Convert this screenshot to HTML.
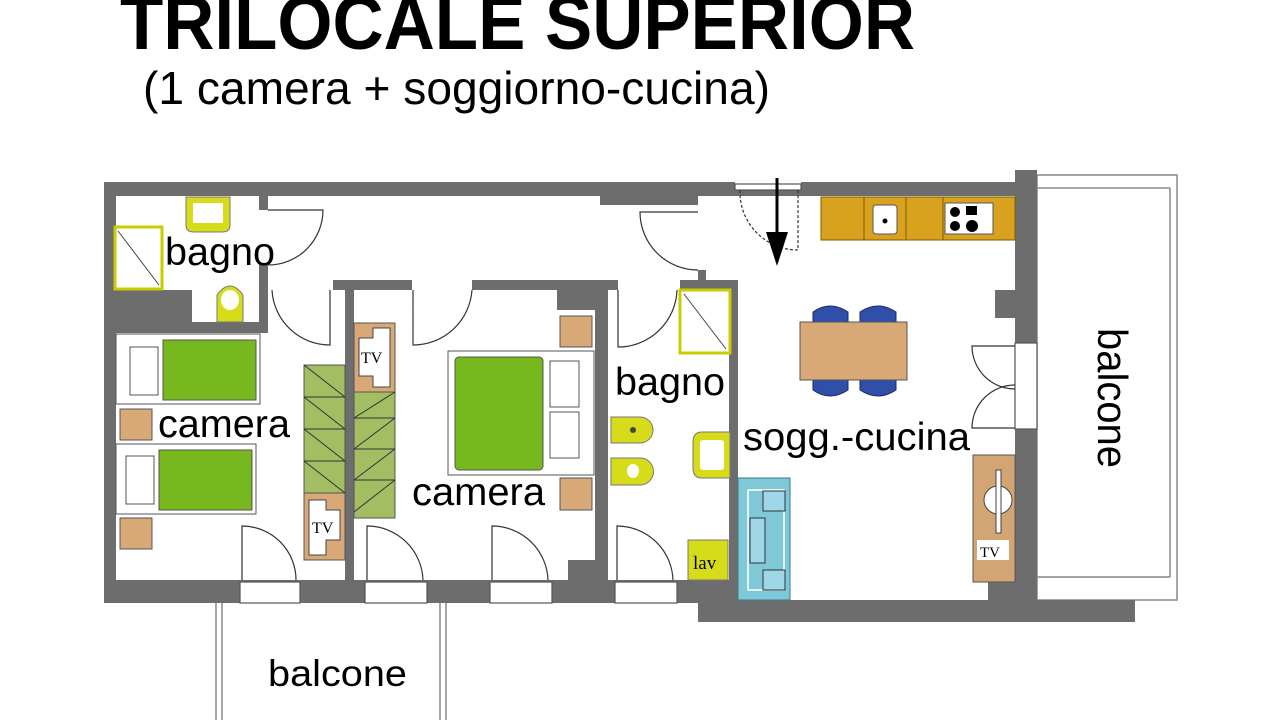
<!DOCTYPE html>
<html><head><meta charset="utf-8"><style>
html,body{margin:0;padding:0;background:#fff;width:1280px;height:720px;overflow:hidden}
svg{display:block}
text{font-family:"Liberation Sans",Arial,sans-serif;fill:#000}
</style></head><body>
<svg width="1280" height="720" viewBox="0 0 1280 720" xmlns="http://www.w3.org/2000/svg">
<rect width="1280" height="720" fill="#fff"/>
<text x="120" y="49" font-size="76" font-weight="bold" textLength="795" lengthAdjust="spacingAndGlyphs">TRILOCALE SUPERIOR</text>
<text x="143" y="104" font-size="46" textLength="627" lengthAdjust="spacingAndGlyphs">(1 camera + soggiorno-cucina)</text>

<!-- right balcony -->
<g fill="none" stroke="#888" stroke-width="1.5">
<rect x="1037" y="175" width="140" height="425"/>
<line x1="1037" y1="188" x2="1170" y2="188"/>
<line x1="1037" y1="577" x2="1170" y2="577"/>
<line x1="1170" y1="188" x2="1170" y2="577"/>
<line x1="216" y1="603" x2="216" y2="720"/><line x1="222" y1="603" x2="222" y2="720"/>
<line x1="440" y1="603" x2="440" y2="720"/><line x1="446" y1="603" x2="446" y2="720"/>
</g>

<!-- walls -->
<g fill="#6d6d6d">
<rect x="104" y="182" width="933" height="14"/>
<rect x="104" y="182" width="12" height="420"/>
<rect x="104" y="580" width="596" height="23"/>
<rect x="698" y="600" width="437" height="22"/>
<rect x="1015" y="170" width="22" height="175"/>
<rect x="1015" y="428" width="22" height="174"/>
<rect x="995" y="290" width="22" height="28"/>
<rect x="988" y="580" width="30" height="22"/>
<rect x="698" y="580" width="40" height="25"/>
<rect x="116" y="290" width="76" height="43"/>
<rect x="116" y="322" width="152" height="11"/>
<rect x="259" y="263" width="9" height="70"/>
<rect x="259" y="196" width="9" height="14"/>
<rect x="333" y="280" width="79" height="10"/>
<rect x="472" y="280" width="128" height="10"/>
<rect x="345" y="280" width="9" height="302"/>
<rect x="557" y="290" width="51" height="20"/>
<rect x="595" y="280" width="13" height="302"/>
<rect x="568" y="560" width="30" height="22"/>
<rect x="600" y="196" width="98" height="9"/>
<rect x="600" y="280" width="18" height="10"/>
<rect x="680" y="280" width="58" height="9"/>
<rect x="729" y="280" width="9" height="325"/>
<rect x="698" y="270" width="8" height="12"/>
<rect x="735" y="182" width="66" height="8" fill="#fff"/>
</g>

<!-- windows bottom -->
<g fill="#fff" stroke="#555" stroke-width="1.2">
<rect x="240" y="582" width="60" height="21"/><rect x="365" y="582" width="62" height="21"/>
<rect x="490" y="582" width="62" height="21"/><rect x="615" y="582" width="62" height="21"/>
<rect x="1015" y="343" width="22" height="86"/>
<rect x="735" y="184" width="66" height="6"/>
</g>

<!-- doors -->
<g fill="none" stroke="#333" stroke-width="1.2">
<path d="M268 210 H323 A55 55 0 0 1 268 265"/>
<path d="M330 290 V345 A58 58 0 0 1 272 290"/>
<path d="M413 290 V345 A59 59 0 0 0 472 290"/>
<path d="M698 212 H640 A58 58 0 0 0 698 270"/>
<path d="M618 290 V347 A59 59 0 0 0 677 290"/>
<path d="M242 580 V526 A54 54 0 0 1 296 580"/>
<path d="M367 580 V526 A56 56 0 0 1 423 580"/>
<path d="M492 580 V526 A56 56 0 0 1 548 580"/>
<path d="M617 580 V526 A56 56 0 0 1 673 580"/>
<path d="M1015 346 H972 A43 43 0 0 0 1015 389"/>
<path d="M1015 428 H972 A43 43 0 0 1 1015 385"/>
<path d="M740 190 A58 58 0 0 0 798 250 V190" stroke-dasharray="3 2"/>
</g>
<line x1="777" y1="178" x2="777" y2="240" stroke="#000" stroke-width="3"/>
<polygon points="766,232 788,232 777,266" fill="#000"/>

<!-- kitchen -->
<rect x="821" y="197" width="194" height="43" fill="#d9a21e" stroke="#7a5a00"/>
<g stroke="#7a5a00"><line x1="864" y1="197" x2="864" y2="240"/><line x1="906" y1="197" x2="906" y2="240"/><line x1="943" y1="197" x2="943" y2="240"/></g>
<rect x="873" y="205" width="24" height="29" rx="3" fill="#fff" stroke="#555"/>
<circle cx="885" cy="221" r="2.5" fill="#000"/>
<rect x="945" y="203" width="48" height="31" fill="#fff" stroke="#555"/>
<g fill="#000"><circle cx="955" cy="212" r="5"/><circle cx="955" cy="226" r="5"/><circle cx="972" cy="226" r="6"/><rect x="966" y="206" width="11" height="9"/></g>

<!-- dining -->
<g fill="#2f4fa8" stroke="#1a2a6a">
<path d="M813 322 V312 Q830 300 848 312 V322 Z"/><path d="M860 322 V312 Q878 300 896 312 V322 Z"/>
<path d="M813 380 V390 Q830 402 848 390 V380 Z"/><path d="M860 380 V390 Q878 402 896 390 V380 Z"/>
</g>
<rect x="800" y="322" width="107" height="58" fill="#d9a877" stroke="#555"/>

<!-- sofa -->
<rect x="738" y="478" width="52" height="122" fill="#7ec8d8" stroke="#3a7a8a"/>
<rect x="748" y="490" width="36" height="100" fill="none" stroke="#fff" stroke-width="1.5"/>
<rect x="750" y="518" width="15" height="45" fill="#9fd6e8" stroke="#333"/>
<rect x="763" y="491" width="22" height="20" fill="#9fd6e8" stroke="#333"/>
<rect x="763" y="570" width="22" height="20" fill="#9fd6e8" stroke="#333"/>

<!-- TV unit living -->
<rect x="973" y="455" width="42" height="127" fill="#d4a574" stroke="#555"/>
<circle cx="998" cy="500" r="14" fill="#fff" stroke="#444"/>
<rect x="996" y="470" width="5" height="63" fill="#fff" stroke="#444"/>
<rect x="977" y="540" width="32" height="20" fill="#fff"/>
<text x="980" y="557" font-size="15" style="font-family:'Liberation Serif',serif">TV</text>

<!-- bagno2 fixtures -->
<rect x="680" y="290" width="50" height="63" fill="#fff" stroke="#c8cc00" stroke-width="3"/>
<line x1="684" y1="294" x2="726" y2="349" stroke="#444"/>
<g fill="#d6dc1a" stroke="#777">
<path d="M611 417 H640 A13 13 0 0 1 640 443 H611 Z"/>
<path d="M611 458 H640 A13 13 0 0 1 640 485 H611 Z"/>
<path d="M730 432 V478 H702 Q693 478 693 468 V442 Q693 432 702 432 Z"/>
<rect x="688" y="540" width="40" height="40"/>
</g>
<rect x="700" y="440" width="24" height="30" rx="3" fill="#fff"/>
<circle cx="633" cy="430" r="3" fill="#444"/>
<ellipse cx="633" cy="471" rx="6" ry="7" fill="#fff"/>
<text x="693" y="569" font-size="19" style="font-family:'Liberation Serif',serif">lav</text>

<!-- bagno1 fixtures -->
<rect x="115" y="227" width="47" height="62" fill="#fff" stroke="#c8cc00" stroke-width="3"/>
<line x1="118" y1="231" x2="159" y2="285" stroke="#444"/>
<path d="M186 197 V225 Q186 232 194 232 H222 Q230 232 230 225 V197 Z" fill="#d6dc1a" stroke="#777"/>
<rect x="193" y="203" width="30" height="20" fill="#fff"/>
<path d="M217 322 V295 Q230 277 243 295 V322 Z" fill="#d6dc1a" stroke="#777"/>
<ellipse cx="230" cy="300" rx="9" ry="10" fill="#fff"/>

<!-- camera1 beds -->
<g stroke="#555">
<rect x="116" y="334" width="144" height="70" fill="#fff"/>
<rect x="163" y="340" width="93" height="60" fill="#77b81e"/>
<rect x="130" y="347" width="28" height="48" fill="#fff"/>
<rect x="116" y="444" width="140" height="70" fill="#fff"/>
<rect x="159" y="450" width="93" height="60" fill="#77b81e"/>
<rect x="126" y="456" width="28" height="48" fill="#fff"/>
<rect x="120" y="409" width="32" height="31" fill="#d9a877"/>
<rect x="120" y="518" width="32" height="31" fill="#d9a877"/>
<rect x="304" y="365" width="41" height="128" fill="#a2bd62"/>
<rect x="354" y="392" width="41" height="126" fill="#a2bd62"/>
<rect x="304" y="493" width="41" height="67" fill="#d9a877"/>
<rect x="354" y="323" width="41" height="69" fill="#d9a877"/>
<rect x="448" y="351" width="146" height="124" fill="#fff"/>
<rect x="455" y="357" width="88" height="113" rx="4" fill="#77b81e"/>
<rect x="550" y="361" width="29" height="46" fill="#fff"/>
<rect x="550" y="412" width="29" height="46" fill="#fff"/>
<rect x="560" y="316" width="32" height="31" fill="#d9a877"/>
<rect x="560" y="478" width="32" height="32" fill="#d9a877"/>
</g>
<g stroke="#333" fill="none">
<path d="M304 365 L345 397 M304 397 L345 429 M304 429 L345 461 M304 461 L345 493"/>
<path d="M304 397 H345 M304 429 H345 M304 461 H345"/>
<path d="M354 418 L395 392 M354 449 L395 418 M354 480 L395 449 M354 512 L395 480"/>
<path d="M354 418 H395 M354 449 H395 M354 480 H395"/>
</g>
<g fill="#fff" stroke="#444">
<path d="M309 500 H326 V510 H340 V540 H326 V555 H309 Z"/>
<path d="M390 328 H373 V338 H359 V376 H373 V387 H390 Z"/>
</g>
<text x="312" y="533" font-size="16" style="font-family:'Liberation Serif',serif">TV</text>
<text x="361" y="363" font-size="16" style="font-family:'Liberation Serif',serif">TV</text>

<!-- labels -->
<text x="165" y="265" font-size="39" textLength="110" lengthAdjust="spacingAndGlyphs">bagno</text>
<text x="158" y="437" font-size="39" textLength="132" lengthAdjust="spacingAndGlyphs">camera</text>
<text x="412" y="505" font-size="39" textLength="133" lengthAdjust="spacingAndGlyphs">camera</text>
<text x="615" y="395" font-size="39" textLength="110" lengthAdjust="spacingAndGlyphs">bagno</text>
<text x="743" y="450" font-size="39" textLength="227" lengthAdjust="spacingAndGlyphs">sogg.-cucina</text>
<text x="268" y="686" font-size="37" textLength="139" lengthAdjust="spacingAndGlyphs">balcone</text>
<text transform="translate(1098,328) rotate(90)" font-size="42" textLength="140" lengthAdjust="spacingAndGlyphs">balcone</text>
</svg>
</body></html>
